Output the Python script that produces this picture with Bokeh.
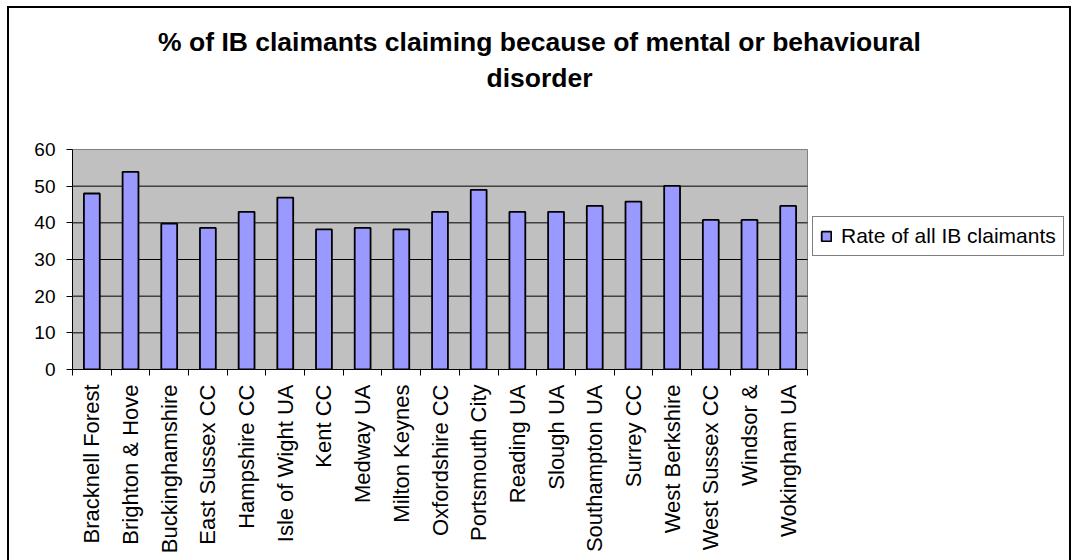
import math

from bokeh.embed import file_html
from bokeh.models import (ColumnDataSource, FixedTicker, InlineStyleSheet,
                          Label, Legend, LegendItem)
from bokeh.plotting import figure
from bokeh.resources import INLINE

# Local authority areas and the share of IB claimants with a mental or
# behavioural disorder (%)
areas = [
    "Bracknell Forest", "Brighton & Hove", "Buckinghamshire", "East Sussex CC",
    "Hampshire CC", "Isle of Wight UA", "Kent CC", "Medway UA", "Milton Keynes",
    "Oxfordshire CC", "Portsmouth City", "Reading UA", "Slough UA",
    "Southampton UA", "Surrey CC", "West Berkshire", "West Sussex CC",
    "Windsor &", "Wokingham UA",
]
rates = [
    48.0, 53.9, 39.8, 38.6, 43.0, 46.9, 38.2, 38.6, 38.2, 43.0,
    49.0, 43.0, 43.0, 44.6, 45.8, 50.1, 40.8, 40.8, 44.6,
]
y_ticks = [0, 10, 20, 30, 40, 50, 60]
series_name = "Rate of all IB claimants"
title_lines = [
    "% of IB claimants claiming because of mental or behavioural",
    "disorder",
]

FONT = "Liberation Sans"

# page geometry (pixels)
W, H = 1073, 560
LEFT, BOTTOM = 72, 191
PLOT_W, PLOT_H = 735, 220          # grey plotting area
FRAME_W, FRAME_H = W - LEFT, H - BOTTOM

n = len(areas)
y_max = y_ticks[-1]

# each area occupies one unit slot; bars sit in the middle of their slot
centers = [i + 0.5 for i in range(n)]
source = ColumnDataSource(dict(x=centers, rate=rates, area=areas))

# thin black frame around the whole chart
frame_css = InlineStyleSheet(css="""
:host { position: relative; }
:host::after {
  content: "";
  position: absolute;
  left: 7px; top: 6px; width: 1064px; height: 554px;
  box-sizing: border-box;
  border: 2px solid black; border-bottom: none;
  pointer-events: none;
}
""")

# the frame spans the whole page right of / above the axes, so that the
# title and legend can live inside it; the axes are bounded to the grey area
p = figure(
    title=None,
    frame_width=FRAME_W, frame_height=FRAME_H,
    x_range=(0, n * FRAME_W / PLOT_W), y_range=(0, y_max * FRAME_H / PLOT_H),
    output_backend="svg", toolbar_location=None,
    min_border_left=LEFT, min_border_right=0,
    min_border_top=0, min_border_bottom=BOTTOM,
    stylesheets=[frame_css],
)
p.border_fill_color = "white"
p.background_fill_color = "white"
p.outline_line_color = None
p.xgrid.visible = False
p.ygrid.visible = False

# grey plotting area with its grey top / right edge
p.quad(left=0, right=n, bottom=0, top=y_max,
       fill_color="#C0C0C0", line_color="#808080", line_width=1)

# horizontal gridlines at the inner y ticks
inner = y_ticks[1:-1]
p.segment(x0=[0] * len(inner), x1=[n] * len(inner), y0=inner, y1=inner,
          line_color="black", line_width=1)

bars = p.vbar(x="x", top="rate", width=0.41, bottom=0, source=source,
              fill_color="#9999FF", line_color="black", line_width=1.8)

# y axis
p.yaxis.bounds = (0, y_max)
p.yaxis.ticker = FixedTicker(ticks=y_ticks)
p.yaxis.major_tick_out = 6
p.yaxis.major_tick_in = 0
p.yaxis.minor_tick_out = 0
p.yaxis.minor_tick_in = 0
p.yaxis.major_label_standoff = 11
p.yaxis.major_label_text_font = FONT
p.yaxis.major_label_text_font_size = "19px"
p.yaxis.major_label_text_color = "black"
p.yaxis.axis_line_color = "black"
p.yaxis.major_tick_line_color = "black"

# x axis: labels at slot centres, tick marks on the slot boundaries
p.xaxis.bounds = (0, n)
p.xaxis.ticker = FixedTicker(ticks=centers, minor_ticks=list(range(n + 1)))
p.xaxis.major_label_overrides = {c: a for c, a in zip(centers, areas)}
p.xaxis.major_label_orientation = math.pi / 2
p.xaxis.major_tick_out = 0
p.xaxis.major_tick_in = 0
p.xaxis.minor_tick_out = 6
p.xaxis.minor_tick_in = 0
p.xaxis.minor_tick_line_color = "black"
p.xaxis.major_label_standoff = 9
p.xaxis.major_label_text_font = FONT
p.xaxis.major_label_text_font_size = "22px"
p.xaxis.major_label_text_color = "black"
p.xaxis.axis_line_color = "black"

legend = Legend(
    items=[LegendItem(label=series_name, renderers=[bars])],
    location=(740, 113), margin=0, padding=7, spacing=0,
    glyph_width=12, glyph_height=12, label_standoff=9, label_height=24,
    label_text_font=FONT, label_text_font_size="21px",
    label_text_color="black",
    border_line_color="black", border_line_width=1,
    background_fill_color="white", background_fill_alpha=1,
)
p.add_layout(legend, "center")

# two-line bold title centred over the chart
for text, y in zip(title_lines, (FRAME_H - 41, FRAME_H - 77)):
    p.add_layout(Label(
        x=467, y=y, x_units="screen", y_units="screen", text=text,
        text_align="center", text_baseline="alphabetic",
        text_font=FONT, text_font_size="26.5px", text_font_style="bold",
        text_color="black",
    ))

open("out.html", "w").write(file_html(p, INLINE))
